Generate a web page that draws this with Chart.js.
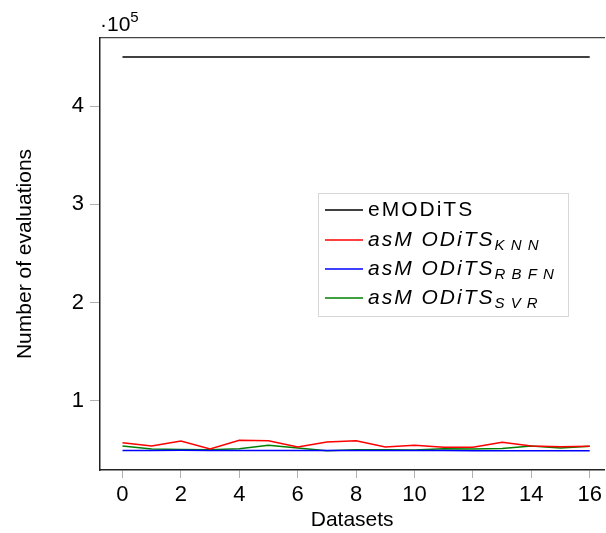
<!DOCTYPE html>
<html>
<head>
<meta charset="utf-8">
<script src="https://cdn.jsdelivr.net/npm/chart.js@4.4.0/dist/chart.umd.min.js"></script>
<style>
  html, body { margin: 0; padding: 0; background: #fff; overflow: hidden; }
  #wrap { width: 606px; height: 533px; }
</style>
</head>
<body>
<div id="wrap"><canvas id="chart" width="606" height="533"></canvas></div>
<script>
// datos
const datasets = [0, 1, 2, 3, 4, 5, 6, 7, 8, 9, 10, 11, 12, 13, 14, 15, 16];
const emodits = [450000, 450000, 450000, 450000, 450000, 450000, 450000, 450000, 450000, 450000, 450000, 450000, 450000, 450000, 450000, 450000, 450000];
const knn = [57200, 53800, 58900, 50800, 59600, 59300, 52800, 57900, 59300, 52800, 54500, 52500, 52500, 57600, 53800, 53100, 53500];
const rbfn = [49300, 49300, 49400, 49300, 49300, 49200, 49200, 49200, 49300, 49200, 49200, 49200, 49100, 49100, 49100, 49100, 49100];
const svr = [53800, 50800, 50400, 50100, 51100, 54500, 51800, 49100, 50100, 50100, 49700, 51100, 50800, 51400, 53800, 51800, 53500];
const yTicks = [1, 2, 3, 4];
const xTicks = [0, 2, 4, 6, 8, 10, 12, 14, 16];

const FONT = "'Liberation Sans', Arial, sans-serif";

function toPoints(arr) {
  return arr.map((v, i) => ({ x: datasets[i], y: v }));
}

// leyenda propia (subindices en italica)
const legendPlugin = {
  id: 'customLegend',
  afterDraw(chart) {
    const ctx = chart.ctx;
    const bx = 318, by = 193, bw = 250, bh = 123;
    ctx.save();
    ctx.fillStyle = '#fff';
    ctx.fillRect(bx, by, bw, bh);
    ctx.strokeStyle = '#d8d8d8';
    ctx.lineWidth = 1;
    ctx.strokeRect(bx + 0.5, by + 0.5, bw, bh);

    const rows = [
      { color: '#000000', main: 'eMODiTS', sub: '', italic: false, y: 210 },
      { color: '#ff0000', main: 'asM ODiTS', sub: 'K N N', italic: true, y: 240 },
      { color: '#0000ff', main: 'asM ODiTS', sub: 'R B F N', italic: true, y: 269 },
      { color: '#008000', main: 'asM ODiTS', sub: 'S V R', italic: true, y: 298 }
    ];
    rows.forEach(r => {
      ctx.strokeStyle = r.color;
      ctx.lineWidth = 1.5;
      ctx.beginPath();
      ctx.moveTo(325, r.y);
      ctx.lineTo(363, r.y);
      ctx.stroke();
      ctx.fillStyle = '#000';
      ctx.textBaseline = 'middle';
      ctx.letterSpacing = '2px';
      ctx.font = (r.italic ? 'italic ' : '') + '21px ' + FONT;
      ctx.fillText(r.main, 368, r.y);
      if (r.sub) {
        const w = ctx.measureText(r.main).width;
        ctx.letterSpacing = '1px';
        ctx.font = 'italic 15px ' + FONT;
        ctx.fillText(r.sub, 368 + w, r.y + 6);
      }
    });
    ctx.restore();
  }
};

// factor de escala arriba del eje
const expPlugin = {
  id: 'expLabel',
  afterDraw(chart) {
    const ctx = chart.ctx;
    ctx.save();
    ctx.fillStyle = '#000';
    ctx.textBaseline = 'alphabetic';
    ctx.font = '21px ' + FONT;
    ctx.fillText('\u00b710', 100, 31);
    const w = ctx.measureText('\u00b710').width;
    ctx.font = '15px ' + FONT;
    ctx.fillText('5', 100 + w, 22);
    ctx.restore();
  }
};

const tickFont = { family: FONT, size: 22 };

const ctx = document.getElementById('chart').getContext('2d');
new Chart(ctx, {
  type: 'line',
  data: {
    datasets: [
      { label: 'eMODiTS', data: toPoints(emodits), borderColor: '#000000' },
      { label: 'asMODiTS_KNN', data: toPoints(knn), borderColor: '#ff0000' },
      { label: 'asMODiTS_RBFN', data: toPoints(rbfn), borderColor: '#0000ff' },
      { label: 'asMODiTS_SVR', data: toPoints(svr), borderColor: '#008000' }
    ].map(d => Object.assign(d, { borderWidth: 1.5, pointRadius: 0, fill: false, tension: 0 }))
  },
  options: {
    responsive: false,
    animation: false,
    layout: { padding: { top: 38, right: 0, left: 0, bottom: 0 } },
    plugins: { legend: { display: false }, tooltip: { enabled: false } },
    scales: {
      x: {
        type: 'linear',
        min: -0.77,
        max: 16.5,
        afterBuildTicks: axis => { axis.ticks = xTicks.map(v => ({ value: v })); },
        afterFit: axis => { axis.height = 63; },
        grid: { display: true, drawOnChartArea: false, drawTicks: true, tickLength: 8, tickColor: '#b0b0b0', tickWidth: 1 },
        border: { display: true, color: '#222', width: 1.5 },
        ticks: { color: '#000', font: tickFont, padding: 4, maxRotation: 0 },
        title: { display: true, text: 'Datasets', color: '#000', font: { family: FONT, size: 21 }, padding: { top: 0, bottom: 0 } }
      },
      xTop: {
        type: 'linear',
        position: 'top',
        min: -0.77,
        max: 16.5,
        afterFit: axis => { axis.height = 0; },
        grid: { display: false },
        ticks: { display: false },
        border: { display: true, color: '#444', width: 1.2 }
      },
      y: {
        type: 'linear',
        min: 29400,
        max: 469400,
        afterBuildTicks: axis => { axis.ticks = yTicks.map(v => ({ value: v * 100000 })); },
        afterFit: axis => { axis.width = 100; },
        grid: { display: true, drawOnChartArea: false, drawTicks: true, tickLength: 10, tickColor: '#b0b0b0', tickWidth: 1 },
        border: { display: true, color: '#222', width: 1.5 },
        ticks: { color: '#000', font: tickFont, padding: 6, callback: v => String(v / 100000) },
        title: { display: true, text: 'Number of evaluations', color: '#000', font: { family: FONT, size: 21 }, padding: { top: 13, bottom: 0 } }
      }
    }
  },
  plugins: [expPlugin, legendPlugin]
});
</script>
</body>
</html>
